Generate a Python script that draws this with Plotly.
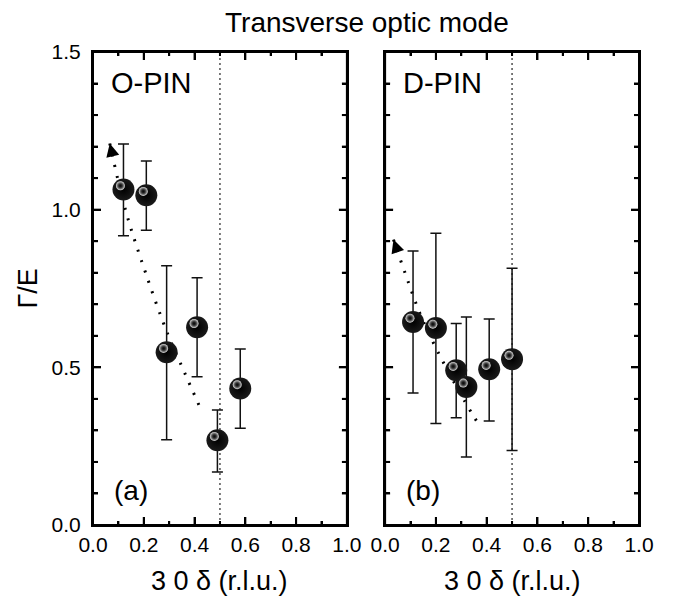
import plotly.graph_objects as go

# ---- data ----
a_x = [0.12, 0.21, 0.29, 0.41, 0.49, 0.58]
a_y = [1.064, 1.046, 0.548, 0.627, 0.269, 0.433]
a_err_hi = [1.208, 1.154, 0.822, 0.784, 0.365, 0.558]
a_err_lo = [0.917, 0.935, 0.270, 0.470, 0.168, 0.307]
a_trend_x = [0.066, 0.129, 0.207, 0.295, 0.358, 0.423]
a_trend_y = [1.21, 0.996, 0.80, 0.604, 0.488, 0.370]

b_x = [0.11, 0.20, 0.28, 0.32, 0.41, 0.50]
b_y = [0.644, 0.625, 0.491, 0.438, 0.494, 0.526]
b_err_hi = [0.869, 0.925, 0.639, 0.660, 0.653, 0.814]
b_err_lo = [0.419, 0.322, 0.340, 0.216, 0.330, 0.236]
b_trend_x = [0.033, 0.084, 0.138, 0.206, 0.311, 0.370]
b_trend_y = [0.905, 0.787, 0.669, 0.552, 0.396, 0.317]

boundary_x = 0.5
x_range = [0.0, 1.0]
y_range = [0.0, 1.5]
x_major, x_minor = 0.2, 0.1
y_major, y_minor = 0.5, 0.1
panel_labels = ["O-PIN", "D-PIN"]
panel_letters = ["(a)", "(b)"]
title_text = "Transverse optic mode"
x_title = "3 0 δ (r.l.u.)"
y_title = "Γ/E"

FONT = "Liberation Sans, Arial, Helvetica, sans-serif"

fig = go.Figure()

panels = [
    (a_x, a_y, a_err_hi, a_err_lo, a_trend_x, a_trend_y, "x", "y"),
    (b_x, b_y, b_err_hi, b_err_lo, b_trend_x, b_trend_y, "x2", "y2"),
]

for (px, py, hi, lo, tx, ty, xa, ya) in panels:
    # vertical boundary (as a trace)
    fig.add_trace(go.Scatter(
        x=[boundary_x, boundary_x], y=y_range, mode="lines", xaxis=xa, yaxis=ya,
        line=dict(color="#444", width=1.4, dash="2px,3px"),
        hoverinfo="skip", showlegend=False))
    # trend dotted line
    fig.add_trace(go.Scatter(
        x=tx, y=ty, mode="lines", xaxis=xa, yaxis=ya,
        line=dict(color="black", width=3, dash="2px,9px", shape="spline"),
        hoverinfo="skip", showlegend=False))
    # data spheres with error bars
    fig.add_trace(go.Scatter(
        x=px, y=py, mode="markers", xaxis=xa, yaxis=ya,
        error_y=dict(type="data", symmetric=False,
                     array=[h - v for h, v in zip(hi, py)],
                     arrayminus=[v - l for l, v in zip(lo, py)],
                     color="#111", thickness=1.5, width=5.5),
        marker=dict(size=22, color="#1a1a1a",
                    gradient=dict(type="radial", color="black"),
                    line=dict(width=0)),
        showlegend=False))
    # highlight
    fig.add_trace(go.Scatter(
        x=[v - 0.012 for v in px], y=[v + 0.012 for v in py],
        mode="markers", xaxis=xa, yaxis=ya,
        marker=dict(size=9, color="#e6e6e6",
                    gradient=dict(type="radial", color="rgba(30,30,30,0)"),
                    line=dict(width=0)),
        hoverinfo="skip", showlegend=False))
    # arrow head at start of trend
    dxp = (tx[1] - tx[0]) * 253
    dyp = (ty[1] - ty[0]) * -315.5
    L = (dxp ** 2 + dyp ** 2) ** 0.5
    fig.add_annotation(
        x=tx[0], y=ty[0], xref=xa, yref=ya,
        ax=dxp / L * 10, ay=dyp / L * 10,
        axref="pixel", ayref="pixel",
        showarrow=True, arrowhead=2, arrowsize=1.2, arrowwidth=2.2,
        arrowcolor="black", text="", standoff=0)

    # frame
    fig.add_shape(type="rect", xref=f"{xa} domain", yref=f"{ya} domain",
                  x0=0, x1=1, y0=0, y1=1, line=dict(color="black", width=2),
                  layer="above")
    # x ticks (bottom & top, inside)
    nx = int(round((x_range[1] - x_range[0]) / x_minor))
    step_ratio_x = int(round(x_major / x_minor))
    for i in range(1, nx):
        v = x_range[0] + i * x_minor
        tl = 8 if i % step_ratio_x == 0 else 4
        for anchor, sgn in ((y_range[0], 1), (y_range[1], -1)):
            fig.add_shape(type="line", xref=xa, yref=ya, x0=v, x1=v,
                          ysizemode="pixel", yanchor=anchor, y0=0, y1=sgn * tl,
                          line=dict(color="black", width=2), layer="above")
    # y ticks (left & right, inside)
    ny = int(round((y_range[1] - y_range[0]) / y_minor))
    step_ratio_y = int(round(y_major / y_minor))
    for i in range(1, ny):
        v = y_range[0] + i * y_minor
        tl = 8 if i % step_ratio_y == 0 else 5
        for anchor, sgn in ((x_range[0], 1), (x_range[1], -1)):
            fig.add_shape(type="line", xref=xa, yref=ya, y0=v, y1=v,
                          xsizemode="pixel", xanchor=anchor, x0=0, x1=sgn * tl,
                          line=dict(color="black", width=2), layer="above")


def make_axis(rng, major, minor, minor_len, standoff=None):
    d = dict(
        range=rng, showline=True, linecolor="black", linewidth=2,
        mirror="allticks", ticks="inside", ticklen=8, tickwidth=2,
        tickcolor="black", showgrid=False, zeroline=False,
        dtick=major, tickformat=".1f",
        tickfont=dict(family=FONT, size=21, color="black"),
        minor=dict(dtick=minor, ticks="inside", ticklen=minor_len, tickcolor="black"),
    )
    if standoff is not None:
        d["ticklabelstandoff"] = standoff
    return d


fig.update_layout(
    template="none",
    width=666, height=597,
    margin=dict(l=85, r=35, t=44, b=80),
    paper_bgcolor="white", plot_bgcolor="white",
    font=dict(family=FONT, color="black"),
    xaxis=dict(domain=[0, 0.465], anchor="y", **make_axis(x_range, x_major, x_minor, 4)),
    xaxis2=dict(domain=[0.535, 1.0], anchor="y2", **make_axis(x_range, x_major, x_minor, 4)),
    yaxis=dict(domain=[0, 1], anchor="x", **make_axis(y_range, y_major, y_minor, 5, 6)),
    yaxis2=dict(domain=[0, 1], anchor="x2", showticklabels=False,
                **make_axis(y_range, y_major, y_minor, 5)),
    showlegend=False,
)

# titles and labels
fig.add_annotation(text=title_text, xref="paper", yref="paper",
                   x=0.502, y=1.0, yshift=30, xanchor="center", yanchor="middle",
                   showarrow=False, font=dict(family=FONT, size=28, color="black"))
for i, (xa, ya) in enumerate([("x", "y"), ("x2", "y2")]):
    fig.add_annotation(text=panel_labels[i], xref=f"{xa} domain", yref=f"{ya} domain",
                       x=0.062, y=1.0, xanchor="left", yanchor="middle", yshift=-31,
                       showarrow=False, font=dict(family=FONT, size=29, color="black"))
    fig.add_annotation(text=panel_letters[i], xref=f"{xa} domain", yref=f"{ya} domain",
                       x=0.075, y=0.0, xanchor="left", yanchor="middle", yshift=35,
                       showarrow=False, font=dict(family=FONT, size=28, color="black"))
    fig.add_annotation(text=x_title, xref=f"{xa} domain", yref="paper",
                       x=0.5, y=0.0, xanchor="center", yanchor="middle", yshift=-56,
                       showarrow=False, font=dict(family=FONT, size=27, color="black"))
fig.add_annotation(text=y_title, xref="paper", yref="paper",
                   x=0.0, xshift=-66, y=0.5, xanchor="center", yanchor="middle",
                   textangle=-90,
                   showarrow=False, font=dict(family=FONT, size=27, color="black"))

fig.write_html("out.html")
